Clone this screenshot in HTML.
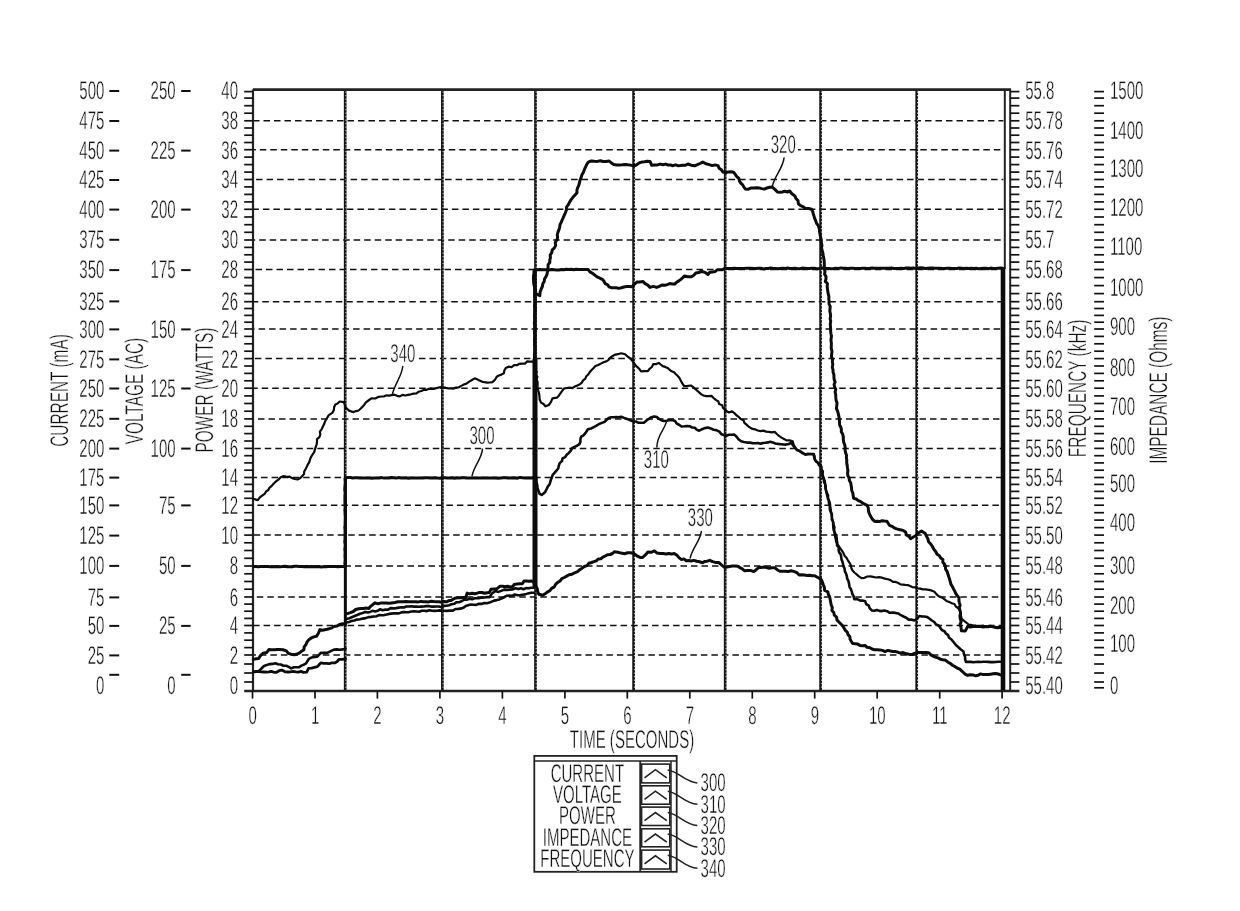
<!DOCTYPE html>
<html><head><meta charset="utf-8"><title>Chart</title>
<style>
html,body{margin:0;padding:0;background:#fff;}
body{width:1240px;height:911px;overflow:hidden;font-family:"Liberation Sans",sans-serif;}
svg{display:block;filter:grayscale(1);}
</style></head>
<body>
<svg width="1240" height="911" viewBox="0 0 1240 911">
<rect width="1240" height="911" fill="#fff"/>
<g stroke="#111" fill="none" stroke-linecap="butt">
<line x1="253.0" y1="120.8" x2="1003.4" y2="120.8" stroke-width="1.5" stroke-dasharray="6.5 4" stroke-dashoffset="0.0"/>
<line x1="253.0" y1="149.7" x2="768" y2="149.7" stroke-width="1.5" stroke-dasharray="6.5 4" stroke-dashoffset="3.7"/>
<line x1="798" y1="149.7" x2="1003.4" y2="149.7" stroke-width="1.5" stroke-dasharray="6.5 4" stroke-dashoffset="3.7"/>
<line x1="253.0" y1="179.5" x2="1003.4" y2="179.5" stroke-width="1.5" stroke-dasharray="6.5 4" stroke-dashoffset="7.4"/>
<line x1="253.0" y1="209.3" x2="1003.4" y2="209.3" stroke-width="1.5" stroke-dasharray="6.5 4" stroke-dashoffset="0.6"/>
<line x1="253.0" y1="240.0" x2="1003.4" y2="240.0" stroke-width="1.5" stroke-dasharray="6.5 4" stroke-dashoffset="4.3"/>
<line x1="253.0" y1="269.5" x2="1003.4" y2="269.5" stroke-width="1.5" stroke-dasharray="6.5 4" stroke-dashoffset="8.0"/>
<line x1="253.0" y1="301.7" x2="1003.4" y2="301.7" stroke-width="1.5" stroke-dasharray="6.5 4" stroke-dashoffset="1.2"/>
<line x1="253.0" y1="329.0" x2="1003.4" y2="329.0" stroke-width="1.5" stroke-dasharray="6.5 4" stroke-dashoffset="4.9"/>
<line x1="253.0" y1="358.6" x2="387" y2="358.6" stroke-width="1.5" stroke-dasharray="6.5 4" stroke-dashoffset="8.6"/>
<line x1="417" y1="358.6" x2="1003.4" y2="358.6" stroke-width="1.5" stroke-dasharray="6.5 4" stroke-dashoffset="8.6"/>
<line x1="253.0" y1="388.2" x2="1003.4" y2="388.2" stroke-width="1.5" stroke-dasharray="6.5 4" stroke-dashoffset="1.8"/>
<line x1="253.0" y1="418.9" x2="1003.4" y2="418.9" stroke-width="1.5" stroke-dasharray="6.5 4" stroke-dashoffset="5.5"/>
<line x1="253.0" y1="448.4" x2="1003.4" y2="448.4" stroke-width="1.5" stroke-dasharray="6.5 4" stroke-dashoffset="9.2"/>
<line x1="253.0" y1="477.5" x2="1003.4" y2="477.5" stroke-width="1.5" stroke-dasharray="6.5 4" stroke-dashoffset="2.4"/>
<line x1="253.0" y1="505.2" x2="1003.4" y2="505.2" stroke-width="1.5" stroke-dasharray="6.5 4" stroke-dashoffset="6.1"/>
<line x1="253.0" y1="535.1" x2="1003.4" y2="535.1" stroke-width="1.5" stroke-dasharray="6.5 4" stroke-dashoffset="9.8"/>
<line x1="253.0" y1="566.0" x2="1003.4" y2="566.0" stroke-width="1.5" stroke-dasharray="6.5 4" stroke-dashoffset="3.0"/>
<line x1="253.0" y1="597.0" x2="1003.4" y2="597.0" stroke-width="1.5" stroke-dasharray="6.5 4" stroke-dashoffset="6.7"/>
<line x1="253.0" y1="625.5" x2="1003.4" y2="625.5" stroke-width="1.5" stroke-dasharray="6.5 4" stroke-dashoffset="10.4"/>
<line x1="253.0" y1="655.0" x2="1003.4" y2="655.0" stroke-width="1.5" stroke-dasharray="6.5 4" stroke-dashoffset="3.6"/>
<line x1="345.2" y1="89.6" x2="345.2" y2="691.0" stroke-width="2.7" stroke="#141414"/>
<line x1="345.9" y1="91.6" x2="345.9" y2="690.0" stroke-width="0.9" stroke="#fff" stroke-dasharray="1.1 2.4"/>
<line x1="442.4" y1="89.6" x2="442.4" y2="691.0" stroke-width="2.7" stroke="#141414"/>
<line x1="443.1" y1="91.6" x2="443.1" y2="690.0" stroke-width="0.9" stroke="#fff" stroke-dasharray="1.1 2.4"/>
<line x1="535.5" y1="89.6" x2="535.5" y2="691.0" stroke-width="2.7" stroke="#141414"/>
<line x1="536.2" y1="91.6" x2="536.2" y2="690.0" stroke-width="0.9" stroke="#fff" stroke-dasharray="1.1 2.4"/>
<line x1="633.6" y1="89.6" x2="633.6" y2="691.0" stroke-width="2.7" stroke="#141414"/>
<line x1="634.4" y1="91.6" x2="634.4" y2="690.0" stroke-width="0.9" stroke="#fff" stroke-dasharray="1.1 2.4"/>
<line x1="725.2" y1="89.6" x2="725.2" y2="691.0" stroke-width="2.7" stroke="#141414"/>
<line x1="726.0" y1="91.6" x2="726.0" y2="690.0" stroke-width="0.9" stroke="#fff" stroke-dasharray="1.1 2.4"/>
<line x1="820.6" y1="89.6" x2="820.6" y2="691.0" stroke-width="2.7" stroke="#141414"/>
<line x1="821.4" y1="91.6" x2="821.4" y2="690.0" stroke-width="0.9" stroke="#fff" stroke-dasharray="1.1 2.4"/>
<line x1="916.7" y1="89.6" x2="916.7" y2="691.0" stroke-width="2.7" stroke="#141414"/>
<line x1="917.5" y1="91.6" x2="917.5" y2="690.0" stroke-width="0.9" stroke="#fff" stroke-dasharray="1.1 2.4"/>
<line x1="252.8" y1="89.6" x2="1011.0" y2="89.6" stroke-width="2.6" stroke="#222"/>
<line x1="253.0" y1="89.6" x2="253.0" y2="691.0" stroke-width="2.2" stroke="#222"/>
<line x1="1010.2" y1="89.6" x2="1010.2" y2="691.0" stroke-width="2.0" stroke="#222"/>
<line x1="1004.8" y1="89.6" x2="1004.8" y2="269.0" stroke-width="2.0" stroke="#222"/>
<line x1="244.2" y1="691.0" x2="1019.4" y2="691.0" stroke-width="2.4" stroke="#222"/>
<line x1="244.2" y1="91.6" x2="253.0" y2="91.6" stroke-width="1.7"/>
<line x1="1010.2" y1="91.6" x2="1019.4" y2="91.6" stroke-width="1.7"/>
<line x1="244.2" y1="98.1" x2="253.0" y2="98.1" stroke-width="1.7"/>
<line x1="1010.2" y1="98.1" x2="1019.4" y2="98.1" stroke-width="1.7"/>
<line x1="244.2" y1="105.7" x2="253.0" y2="105.7" stroke-width="1.7"/>
<line x1="1010.2" y1="105.7" x2="1019.4" y2="105.7" stroke-width="1.7"/>
<line x1="244.2" y1="113.2" x2="253.0" y2="113.2" stroke-width="1.7"/>
<line x1="1010.2" y1="113.2" x2="1019.4" y2="113.2" stroke-width="1.7"/>
<line x1="244.2" y1="120.8" x2="253.0" y2="120.8" stroke-width="1.7"/>
<line x1="1010.2" y1="120.8" x2="1019.4" y2="120.8" stroke-width="1.7"/>
<line x1="244.2" y1="128.0" x2="253.0" y2="128.0" stroke-width="1.7"/>
<line x1="1010.2" y1="128.0" x2="1019.4" y2="128.0" stroke-width="1.7"/>
<line x1="244.2" y1="135.2" x2="253.0" y2="135.2" stroke-width="1.7"/>
<line x1="1010.2" y1="135.2" x2="1019.4" y2="135.2" stroke-width="1.7"/>
<line x1="244.2" y1="142.5" x2="253.0" y2="142.5" stroke-width="1.7"/>
<line x1="1010.2" y1="142.5" x2="1019.4" y2="142.5" stroke-width="1.7"/>
<line x1="244.2" y1="149.7" x2="253.0" y2="149.7" stroke-width="1.7"/>
<line x1="1010.2" y1="149.7" x2="1019.4" y2="149.7" stroke-width="1.7"/>
<line x1="244.2" y1="157.1" x2="253.0" y2="157.1" stroke-width="1.7"/>
<line x1="1010.2" y1="157.1" x2="1019.4" y2="157.1" stroke-width="1.7"/>
<line x1="244.2" y1="164.6" x2="253.0" y2="164.6" stroke-width="1.7"/>
<line x1="1010.2" y1="164.6" x2="1019.4" y2="164.6" stroke-width="1.7"/>
<line x1="244.2" y1="172.1" x2="253.0" y2="172.1" stroke-width="1.7"/>
<line x1="1010.2" y1="172.1" x2="1019.4" y2="172.1" stroke-width="1.7"/>
<line x1="244.2" y1="179.5" x2="253.0" y2="179.5" stroke-width="1.7"/>
<line x1="1010.2" y1="179.5" x2="1019.4" y2="179.5" stroke-width="1.7"/>
<line x1="244.2" y1="186.9" x2="253.0" y2="186.9" stroke-width="1.7"/>
<line x1="1010.2" y1="186.9" x2="1019.4" y2="186.9" stroke-width="1.7"/>
<line x1="244.2" y1="194.4" x2="253.0" y2="194.4" stroke-width="1.7"/>
<line x1="1010.2" y1="194.4" x2="1019.4" y2="194.4" stroke-width="1.7"/>
<line x1="244.2" y1="201.9" x2="253.0" y2="201.9" stroke-width="1.7"/>
<line x1="1010.2" y1="201.9" x2="1019.4" y2="201.9" stroke-width="1.7"/>
<line x1="244.2" y1="209.3" x2="253.0" y2="209.3" stroke-width="1.7"/>
<line x1="1010.2" y1="209.3" x2="1019.4" y2="209.3" stroke-width="1.7"/>
<line x1="244.2" y1="217.0" x2="253.0" y2="217.0" stroke-width="1.7"/>
<line x1="1010.2" y1="217.0" x2="1019.4" y2="217.0" stroke-width="1.7"/>
<line x1="244.2" y1="224.7" x2="253.0" y2="224.7" stroke-width="1.7"/>
<line x1="1010.2" y1="224.7" x2="1019.4" y2="224.7" stroke-width="1.7"/>
<line x1="244.2" y1="232.3" x2="253.0" y2="232.3" stroke-width="1.7"/>
<line x1="1010.2" y1="232.3" x2="1019.4" y2="232.3" stroke-width="1.7"/>
<line x1="244.2" y1="240.0" x2="253.0" y2="240.0" stroke-width="1.7"/>
<line x1="1010.2" y1="240.0" x2="1019.4" y2="240.0" stroke-width="1.7"/>
<line x1="244.2" y1="247.4" x2="253.0" y2="247.4" stroke-width="1.7"/>
<line x1="1010.2" y1="247.4" x2="1019.4" y2="247.4" stroke-width="1.7"/>
<line x1="244.2" y1="254.8" x2="253.0" y2="254.8" stroke-width="1.7"/>
<line x1="1010.2" y1="254.8" x2="1019.4" y2="254.8" stroke-width="1.7"/>
<line x1="244.2" y1="262.1" x2="253.0" y2="262.1" stroke-width="1.7"/>
<line x1="1010.2" y1="262.1" x2="1019.4" y2="262.1" stroke-width="1.7"/>
<line x1="244.2" y1="269.5" x2="253.0" y2="269.5" stroke-width="1.7"/>
<line x1="1010.2" y1="269.5" x2="1019.4" y2="269.5" stroke-width="1.7"/>
<line x1="244.2" y1="277.6" x2="253.0" y2="277.6" stroke-width="1.7"/>
<line x1="1010.2" y1="277.6" x2="1019.4" y2="277.6" stroke-width="1.7"/>
<line x1="244.2" y1="285.6" x2="253.0" y2="285.6" stroke-width="1.7"/>
<line x1="1010.2" y1="285.6" x2="1019.4" y2="285.6" stroke-width="1.7"/>
<line x1="244.2" y1="293.6" x2="253.0" y2="293.6" stroke-width="1.7"/>
<line x1="1010.2" y1="293.6" x2="1019.4" y2="293.6" stroke-width="1.7"/>
<line x1="244.2" y1="301.7" x2="253.0" y2="301.7" stroke-width="1.7"/>
<line x1="1010.2" y1="301.7" x2="1019.4" y2="301.7" stroke-width="1.7"/>
<line x1="244.2" y1="308.5" x2="253.0" y2="308.5" stroke-width="1.7"/>
<line x1="1010.2" y1="308.5" x2="1019.4" y2="308.5" stroke-width="1.7"/>
<line x1="244.2" y1="315.4" x2="253.0" y2="315.4" stroke-width="1.7"/>
<line x1="1010.2" y1="315.4" x2="1019.4" y2="315.4" stroke-width="1.7"/>
<line x1="244.2" y1="322.2" x2="253.0" y2="322.2" stroke-width="1.7"/>
<line x1="1010.2" y1="322.2" x2="1019.4" y2="322.2" stroke-width="1.7"/>
<line x1="244.2" y1="329.0" x2="253.0" y2="329.0" stroke-width="1.7"/>
<line x1="1010.2" y1="329.0" x2="1019.4" y2="329.0" stroke-width="1.7"/>
<line x1="244.2" y1="336.4" x2="253.0" y2="336.4" stroke-width="1.7"/>
<line x1="1010.2" y1="336.4" x2="1019.4" y2="336.4" stroke-width="1.7"/>
<line x1="244.2" y1="343.8" x2="253.0" y2="343.8" stroke-width="1.7"/>
<line x1="1010.2" y1="343.8" x2="1019.4" y2="343.8" stroke-width="1.7"/>
<line x1="244.2" y1="351.2" x2="253.0" y2="351.2" stroke-width="1.7"/>
<line x1="1010.2" y1="351.2" x2="1019.4" y2="351.2" stroke-width="1.7"/>
<line x1="244.2" y1="358.6" x2="253.0" y2="358.6" stroke-width="1.7"/>
<line x1="1010.2" y1="358.6" x2="1019.4" y2="358.6" stroke-width="1.7"/>
<line x1="244.2" y1="366.0" x2="253.0" y2="366.0" stroke-width="1.7"/>
<line x1="1010.2" y1="366.0" x2="1019.4" y2="366.0" stroke-width="1.7"/>
<line x1="244.2" y1="373.4" x2="253.0" y2="373.4" stroke-width="1.7"/>
<line x1="1010.2" y1="373.4" x2="1019.4" y2="373.4" stroke-width="1.7"/>
<line x1="244.2" y1="380.8" x2="253.0" y2="380.8" stroke-width="1.7"/>
<line x1="1010.2" y1="380.8" x2="1019.4" y2="380.8" stroke-width="1.7"/>
<line x1="244.2" y1="388.2" x2="253.0" y2="388.2" stroke-width="1.7"/>
<line x1="1010.2" y1="388.2" x2="1019.4" y2="388.2" stroke-width="1.7"/>
<line x1="244.2" y1="395.9" x2="253.0" y2="395.9" stroke-width="1.7"/>
<line x1="1010.2" y1="395.9" x2="1019.4" y2="395.9" stroke-width="1.7"/>
<line x1="244.2" y1="403.5" x2="253.0" y2="403.5" stroke-width="1.7"/>
<line x1="1010.2" y1="403.5" x2="1019.4" y2="403.5" stroke-width="1.7"/>
<line x1="244.2" y1="411.2" x2="253.0" y2="411.2" stroke-width="1.7"/>
<line x1="1010.2" y1="411.2" x2="1019.4" y2="411.2" stroke-width="1.7"/>
<line x1="244.2" y1="418.9" x2="253.0" y2="418.9" stroke-width="1.7"/>
<line x1="1010.2" y1="418.9" x2="1019.4" y2="418.9" stroke-width="1.7"/>
<line x1="244.2" y1="426.3" x2="253.0" y2="426.3" stroke-width="1.7"/>
<line x1="1010.2" y1="426.3" x2="1019.4" y2="426.3" stroke-width="1.7"/>
<line x1="244.2" y1="433.6" x2="253.0" y2="433.6" stroke-width="1.7"/>
<line x1="1010.2" y1="433.6" x2="1019.4" y2="433.6" stroke-width="1.7"/>
<line x1="244.2" y1="441.0" x2="253.0" y2="441.0" stroke-width="1.7"/>
<line x1="1010.2" y1="441.0" x2="1019.4" y2="441.0" stroke-width="1.7"/>
<line x1="244.2" y1="448.4" x2="253.0" y2="448.4" stroke-width="1.7"/>
<line x1="1010.2" y1="448.4" x2="1019.4" y2="448.4" stroke-width="1.7"/>
<line x1="244.2" y1="455.7" x2="253.0" y2="455.7" stroke-width="1.7"/>
<line x1="1010.2" y1="455.7" x2="1019.4" y2="455.7" stroke-width="1.7"/>
<line x1="244.2" y1="462.9" x2="253.0" y2="462.9" stroke-width="1.7"/>
<line x1="1010.2" y1="462.9" x2="1019.4" y2="462.9" stroke-width="1.7"/>
<line x1="244.2" y1="470.2" x2="253.0" y2="470.2" stroke-width="1.7"/>
<line x1="1010.2" y1="470.2" x2="1019.4" y2="470.2" stroke-width="1.7"/>
<line x1="244.2" y1="477.5" x2="253.0" y2="477.5" stroke-width="1.7"/>
<line x1="1010.2" y1="477.5" x2="1019.4" y2="477.5" stroke-width="1.7"/>
<line x1="244.2" y1="484.4" x2="253.0" y2="484.4" stroke-width="1.7"/>
<line x1="1010.2" y1="484.4" x2="1019.4" y2="484.4" stroke-width="1.7"/>
<line x1="244.2" y1="491.4" x2="253.0" y2="491.4" stroke-width="1.7"/>
<line x1="1010.2" y1="491.4" x2="1019.4" y2="491.4" stroke-width="1.7"/>
<line x1="244.2" y1="498.3" x2="253.0" y2="498.3" stroke-width="1.7"/>
<line x1="1010.2" y1="498.3" x2="1019.4" y2="498.3" stroke-width="1.7"/>
<line x1="244.2" y1="505.2" x2="253.0" y2="505.2" stroke-width="1.7"/>
<line x1="1010.2" y1="505.2" x2="1019.4" y2="505.2" stroke-width="1.7"/>
<line x1="244.2" y1="512.7" x2="253.0" y2="512.7" stroke-width="1.7"/>
<line x1="1010.2" y1="512.7" x2="1019.4" y2="512.7" stroke-width="1.7"/>
<line x1="244.2" y1="520.1" x2="253.0" y2="520.1" stroke-width="1.7"/>
<line x1="1010.2" y1="520.1" x2="1019.4" y2="520.1" stroke-width="1.7"/>
<line x1="244.2" y1="527.6" x2="253.0" y2="527.6" stroke-width="1.7"/>
<line x1="1010.2" y1="527.6" x2="1019.4" y2="527.6" stroke-width="1.7"/>
<line x1="244.2" y1="535.1" x2="253.0" y2="535.1" stroke-width="1.7"/>
<line x1="1010.2" y1="535.1" x2="1019.4" y2="535.1" stroke-width="1.7"/>
<line x1="244.2" y1="542.8" x2="253.0" y2="542.8" stroke-width="1.7"/>
<line x1="1010.2" y1="542.8" x2="1019.4" y2="542.8" stroke-width="1.7"/>
<line x1="244.2" y1="550.5" x2="253.0" y2="550.5" stroke-width="1.7"/>
<line x1="1010.2" y1="550.5" x2="1019.4" y2="550.5" stroke-width="1.7"/>
<line x1="244.2" y1="558.3" x2="253.0" y2="558.3" stroke-width="1.7"/>
<line x1="1010.2" y1="558.3" x2="1019.4" y2="558.3" stroke-width="1.7"/>
<line x1="244.2" y1="566.0" x2="253.0" y2="566.0" stroke-width="1.7"/>
<line x1="1010.2" y1="566.0" x2="1019.4" y2="566.0" stroke-width="1.7"/>
<line x1="244.2" y1="573.8" x2="253.0" y2="573.8" stroke-width="1.7"/>
<line x1="1010.2" y1="573.8" x2="1019.4" y2="573.8" stroke-width="1.7"/>
<line x1="244.2" y1="581.5" x2="253.0" y2="581.5" stroke-width="1.7"/>
<line x1="1010.2" y1="581.5" x2="1019.4" y2="581.5" stroke-width="1.7"/>
<line x1="244.2" y1="589.2" x2="253.0" y2="589.2" stroke-width="1.7"/>
<line x1="1010.2" y1="589.2" x2="1019.4" y2="589.2" stroke-width="1.7"/>
<line x1="244.2" y1="597.0" x2="253.0" y2="597.0" stroke-width="1.7"/>
<line x1="1010.2" y1="597.0" x2="1019.4" y2="597.0" stroke-width="1.7"/>
<line x1="244.2" y1="604.1" x2="253.0" y2="604.1" stroke-width="1.7"/>
<line x1="1010.2" y1="604.1" x2="1019.4" y2="604.1" stroke-width="1.7"/>
<line x1="244.2" y1="611.2" x2="253.0" y2="611.2" stroke-width="1.7"/>
<line x1="1010.2" y1="611.2" x2="1019.4" y2="611.2" stroke-width="1.7"/>
<line x1="244.2" y1="618.4" x2="253.0" y2="618.4" stroke-width="1.7"/>
<line x1="1010.2" y1="618.4" x2="1019.4" y2="618.4" stroke-width="1.7"/>
<line x1="244.2" y1="625.5" x2="253.0" y2="625.5" stroke-width="1.7"/>
<line x1="1010.2" y1="625.5" x2="1019.4" y2="625.5" stroke-width="1.7"/>
<line x1="244.2" y1="632.9" x2="253.0" y2="632.9" stroke-width="1.7"/>
<line x1="1010.2" y1="632.9" x2="1019.4" y2="632.9" stroke-width="1.7"/>
<line x1="244.2" y1="640.2" x2="253.0" y2="640.2" stroke-width="1.7"/>
<line x1="1010.2" y1="640.2" x2="1019.4" y2="640.2" stroke-width="1.7"/>
<line x1="244.2" y1="647.6" x2="253.0" y2="647.6" stroke-width="1.7"/>
<line x1="1010.2" y1="647.6" x2="1019.4" y2="647.6" stroke-width="1.7"/>
<line x1="244.2" y1="655.0" x2="253.0" y2="655.0" stroke-width="1.7"/>
<line x1="1010.2" y1="655.0" x2="1019.4" y2="655.0" stroke-width="1.7"/>
<line x1="244.2" y1="664.0" x2="253.0" y2="664.0" stroke-width="1.7"/>
<line x1="1010.2" y1="664.0" x2="1019.4" y2="664.0" stroke-width="1.7"/>
<line x1="244.2" y1="673.0" x2="253.0" y2="673.0" stroke-width="1.7"/>
<line x1="1010.2" y1="673.0" x2="1019.4" y2="673.0" stroke-width="1.7"/>
<line x1="244.2" y1="682.0" x2="253.0" y2="682.0" stroke-width="1.7"/>
<line x1="1010.2" y1="682.0" x2="1019.4" y2="682.0" stroke-width="1.7"/>
<line x1="1094.2" y1="91.6" x2="1104.0" y2="91.6" stroke-width="1.7"/>
<line x1="1094.2" y1="98.1" x2="1104.0" y2="98.1" stroke-width="1.7"/>
<line x1="1094.2" y1="105.7" x2="1104.0" y2="105.7" stroke-width="1.7"/>
<line x1="1094.2" y1="113.2" x2="1104.0" y2="113.2" stroke-width="1.7"/>
<line x1="1094.2" y1="120.8" x2="1104.0" y2="120.8" stroke-width="1.7"/>
<line x1="1094.2" y1="128.0" x2="1104.0" y2="128.0" stroke-width="1.7"/>
<line x1="1094.2" y1="135.2" x2="1104.0" y2="135.2" stroke-width="1.7"/>
<line x1="1094.2" y1="142.5" x2="1104.0" y2="142.5" stroke-width="1.7"/>
<line x1="1094.2" y1="149.7" x2="1104.0" y2="149.7" stroke-width="1.7"/>
<line x1="1094.2" y1="157.1" x2="1104.0" y2="157.1" stroke-width="1.7"/>
<line x1="1094.2" y1="164.6" x2="1104.0" y2="164.6" stroke-width="1.7"/>
<line x1="1094.2" y1="172.1" x2="1104.0" y2="172.1" stroke-width="1.7"/>
<line x1="1094.2" y1="179.5" x2="1104.0" y2="179.5" stroke-width="1.7"/>
<line x1="1094.2" y1="186.9" x2="1104.0" y2="186.9" stroke-width="1.7"/>
<line x1="1094.2" y1="194.4" x2="1104.0" y2="194.4" stroke-width="1.7"/>
<line x1="1094.2" y1="201.9" x2="1104.0" y2="201.9" stroke-width="1.7"/>
<line x1="1094.2" y1="209.3" x2="1104.0" y2="209.3" stroke-width="1.7"/>
<line x1="1094.2" y1="217.0" x2="1104.0" y2="217.0" stroke-width="1.7"/>
<line x1="1094.2" y1="224.7" x2="1104.0" y2="224.7" stroke-width="1.7"/>
<line x1="1094.2" y1="232.3" x2="1104.0" y2="232.3" stroke-width="1.7"/>
<line x1="1094.2" y1="240.0" x2="1104.0" y2="240.0" stroke-width="1.7"/>
<line x1="1094.2" y1="247.4" x2="1104.0" y2="247.4" stroke-width="1.7"/>
<line x1="1094.2" y1="254.8" x2="1104.0" y2="254.8" stroke-width="1.7"/>
<line x1="1094.2" y1="262.1" x2="1104.0" y2="262.1" stroke-width="1.7"/>
<line x1="1094.2" y1="269.5" x2="1104.0" y2="269.5" stroke-width="1.7"/>
<line x1="1094.2" y1="277.6" x2="1104.0" y2="277.6" stroke-width="1.7"/>
<line x1="1094.2" y1="285.6" x2="1104.0" y2="285.6" stroke-width="1.7"/>
<line x1="1094.2" y1="293.6" x2="1104.0" y2="293.6" stroke-width="1.7"/>
<line x1="1094.2" y1="301.7" x2="1104.0" y2="301.7" stroke-width="1.7"/>
<line x1="1094.2" y1="308.5" x2="1104.0" y2="308.5" stroke-width="1.7"/>
<line x1="1094.2" y1="315.4" x2="1104.0" y2="315.4" stroke-width="1.7"/>
<line x1="1094.2" y1="322.2" x2="1104.0" y2="322.2" stroke-width="1.7"/>
<line x1="1094.2" y1="329.0" x2="1104.0" y2="329.0" stroke-width="1.7"/>
<line x1="1094.2" y1="336.4" x2="1104.0" y2="336.4" stroke-width="1.7"/>
<line x1="1094.2" y1="343.8" x2="1104.0" y2="343.8" stroke-width="1.7"/>
<line x1="1094.2" y1="351.2" x2="1104.0" y2="351.2" stroke-width="1.7"/>
<line x1="1094.2" y1="358.6" x2="1104.0" y2="358.6" stroke-width="1.7"/>
<line x1="1094.2" y1="366.0" x2="1104.0" y2="366.0" stroke-width="1.7"/>
<line x1="1094.2" y1="373.4" x2="1104.0" y2="373.4" stroke-width="1.7"/>
<line x1="1094.2" y1="380.8" x2="1104.0" y2="380.8" stroke-width="1.7"/>
<line x1="1094.2" y1="388.2" x2="1104.0" y2="388.2" stroke-width="1.7"/>
<line x1="1094.2" y1="395.9" x2="1104.0" y2="395.9" stroke-width="1.7"/>
<line x1="1094.2" y1="403.5" x2="1104.0" y2="403.5" stroke-width="1.7"/>
<line x1="1094.2" y1="411.2" x2="1104.0" y2="411.2" stroke-width="1.7"/>
<line x1="1094.2" y1="418.9" x2="1104.0" y2="418.9" stroke-width="1.7"/>
<line x1="1094.2" y1="426.3" x2="1104.0" y2="426.3" stroke-width="1.7"/>
<line x1="1094.2" y1="433.6" x2="1104.0" y2="433.6" stroke-width="1.7"/>
<line x1="1094.2" y1="441.0" x2="1104.0" y2="441.0" stroke-width="1.7"/>
<line x1="1094.2" y1="448.4" x2="1104.0" y2="448.4" stroke-width="1.7"/>
<line x1="1094.2" y1="455.7" x2="1104.0" y2="455.7" stroke-width="1.7"/>
<line x1="1094.2" y1="462.9" x2="1104.0" y2="462.9" stroke-width="1.7"/>
<line x1="1094.2" y1="470.2" x2="1104.0" y2="470.2" stroke-width="1.7"/>
<line x1="1094.2" y1="477.5" x2="1104.0" y2="477.5" stroke-width="1.7"/>
<line x1="1094.2" y1="484.4" x2="1104.0" y2="484.4" stroke-width="1.7"/>
<line x1="1094.2" y1="491.4" x2="1104.0" y2="491.4" stroke-width="1.7"/>
<line x1="1094.2" y1="498.3" x2="1104.0" y2="498.3" stroke-width="1.7"/>
<line x1="1094.2" y1="505.2" x2="1104.0" y2="505.2" stroke-width="1.7"/>
<line x1="1094.2" y1="512.7" x2="1104.0" y2="512.7" stroke-width="1.7"/>
<line x1="1094.2" y1="520.1" x2="1104.0" y2="520.1" stroke-width="1.7"/>
<line x1="1094.2" y1="527.6" x2="1104.0" y2="527.6" stroke-width="1.7"/>
<line x1="1094.2" y1="535.1" x2="1104.0" y2="535.1" stroke-width="1.7"/>
<line x1="1094.2" y1="542.8" x2="1104.0" y2="542.8" stroke-width="1.7"/>
<line x1="1094.2" y1="550.5" x2="1104.0" y2="550.5" stroke-width="1.7"/>
<line x1="1094.2" y1="558.3" x2="1104.0" y2="558.3" stroke-width="1.7"/>
<line x1="1094.2" y1="566.0" x2="1104.0" y2="566.0" stroke-width="1.7"/>
<line x1="1094.2" y1="573.8" x2="1104.0" y2="573.8" stroke-width="1.7"/>
<line x1="1094.2" y1="581.5" x2="1104.0" y2="581.5" stroke-width="1.7"/>
<line x1="1094.2" y1="589.2" x2="1104.0" y2="589.2" stroke-width="1.7"/>
<line x1="1094.2" y1="597.0" x2="1104.0" y2="597.0" stroke-width="1.7"/>
<line x1="1094.2" y1="604.1" x2="1104.0" y2="604.1" stroke-width="1.7"/>
<line x1="1094.2" y1="611.2" x2="1104.0" y2="611.2" stroke-width="1.7"/>
<line x1="1094.2" y1="618.4" x2="1104.0" y2="618.4" stroke-width="1.7"/>
<line x1="1094.2" y1="625.5" x2="1104.0" y2="625.5" stroke-width="1.7"/>
<line x1="1094.2" y1="632.9" x2="1104.0" y2="632.9" stroke-width="1.7"/>
<line x1="1094.2" y1="640.2" x2="1104.0" y2="640.2" stroke-width="1.7"/>
<line x1="1094.2" y1="647.6" x2="1104.0" y2="647.6" stroke-width="1.7"/>
<line x1="1094.2" y1="655.0" x2="1104.0" y2="655.0" stroke-width="1.7"/>
<line x1="1094.2" y1="664.0" x2="1104.0" y2="664.0" stroke-width="1.7"/>
<line x1="1094.2" y1="673.0" x2="1104.0" y2="673.0" stroke-width="1.7"/>
<line x1="1094.2" y1="682.0" x2="1104.0" y2="682.0" stroke-width="1.7"/>
<line x1="1094.2" y1="687.8" x2="1104.0" y2="687.8" stroke-width="1.7"/>
<line x1="252.5" y1="691.0" x2="252.5" y2="698.6" stroke-width="1.7"/>
<line x1="315.0" y1="691.0" x2="315.0" y2="698.6" stroke-width="1.7"/>
<line x1="377.4" y1="691.0" x2="377.4" y2="698.6" stroke-width="1.7"/>
<line x1="439.9" y1="691.0" x2="439.9" y2="698.6" stroke-width="1.7"/>
<line x1="502.4" y1="691.0" x2="502.4" y2="698.6" stroke-width="1.7"/>
<line x1="564.9" y1="691.0" x2="564.9" y2="698.6" stroke-width="1.7"/>
<line x1="627.3" y1="691.0" x2="627.3" y2="698.6" stroke-width="1.7"/>
<line x1="689.8" y1="691.0" x2="689.8" y2="698.6" stroke-width="1.7"/>
<line x1="752.3" y1="691.0" x2="752.3" y2="698.6" stroke-width="1.7"/>
<line x1="814.7" y1="691.0" x2="814.7" y2="698.6" stroke-width="1.7"/>
<line x1="877.2" y1="691.0" x2="877.2" y2="698.6" stroke-width="1.7"/>
<line x1="939.7" y1="691.0" x2="939.7" y2="698.6" stroke-width="1.7"/>
<line x1="1002.1" y1="691.0" x2="1002.1" y2="698.6" stroke-width="1.7"/>
<line x1="109.3" y1="91.0" x2="119.2" y2="91.0" stroke-width="2.0"/>
<line x1="181.2" y1="91.0" x2="190.6" y2="91.0" stroke-width="2.0"/>
<line x1="109.3" y1="121.0" x2="119.2" y2="121.0" stroke-width="2.0"/>
<line x1="109.3" y1="150.6" x2="119.2" y2="150.6" stroke-width="2.0"/>
<line x1="181.2" y1="150.6" x2="190.6" y2="150.6" stroke-width="2.0"/>
<line x1="109.3" y1="180.0" x2="119.2" y2="180.0" stroke-width="2.0"/>
<line x1="109.3" y1="209.6" x2="119.2" y2="209.6" stroke-width="2.0"/>
<line x1="181.2" y1="209.6" x2="190.6" y2="209.6" stroke-width="2.0"/>
<line x1="109.3" y1="239.8" x2="119.2" y2="239.8" stroke-width="2.0"/>
<line x1="109.3" y1="270.1" x2="119.2" y2="270.1" stroke-width="2.0"/>
<line x1="181.2" y1="270.1" x2="190.6" y2="270.1" stroke-width="2.0"/>
<line x1="109.3" y1="301.4" x2="119.2" y2="301.4" stroke-width="2.0"/>
<line x1="109.3" y1="329.4" x2="119.2" y2="329.4" stroke-width="2.0"/>
<line x1="181.2" y1="329.4" x2="190.6" y2="329.4" stroke-width="2.0"/>
<line x1="109.3" y1="359.4" x2="119.2" y2="359.4" stroke-width="2.0"/>
<line x1="109.3" y1="388.5" x2="119.2" y2="388.5" stroke-width="2.0"/>
<line x1="181.2" y1="388.5" x2="190.6" y2="388.5" stroke-width="2.0"/>
<line x1="109.3" y1="418.8" x2="119.2" y2="418.8" stroke-width="2.0"/>
<line x1="109.3" y1="448.6" x2="119.2" y2="448.6" stroke-width="2.0"/>
<line x1="181.2" y1="448.6" x2="190.6" y2="448.6" stroke-width="2.0"/>
<line x1="109.3" y1="477.6" x2="119.2" y2="477.6" stroke-width="2.0"/>
<line x1="109.3" y1="505.4" x2="119.2" y2="505.4" stroke-width="2.0"/>
<line x1="181.2" y1="505.4" x2="190.6" y2="505.4" stroke-width="2.0"/>
<line x1="109.3" y1="535.6" x2="119.2" y2="535.6" stroke-width="2.0"/>
<line x1="109.3" y1="565.9" x2="119.2" y2="565.9" stroke-width="2.0"/>
<line x1="181.2" y1="565.9" x2="190.6" y2="565.9" stroke-width="2.0"/>
<line x1="109.3" y1="597.4" x2="119.2" y2="597.4" stroke-width="2.0"/>
<line x1="109.3" y1="625.9" x2="119.2" y2="625.9" stroke-width="2.0"/>
<line x1="181.2" y1="625.9" x2="190.6" y2="625.9" stroke-width="2.0"/>
<line x1="109.3" y1="655.4" x2="119.2" y2="655.4" stroke-width="2.0"/>
<line x1="109.3" y1="674.8" x2="119.2" y2="674.8" stroke-width="2.0"/>
<line x1="181.2" y1="674.8" x2="190.6" y2="674.8" stroke-width="2.0"/>
</g>
<g stroke="#0c0c0c" fill="none" stroke-linejoin="round" stroke-linecap="round">
<polyline points="253.5,566.6 255.9,566.6 258.3,566.7 260.7,566.6 263.2,566.5 265.6,566.4 268.0,566.6 270.4,566.8 272.8,566.7 275.2,566.8 277.6,566.6 280.0,566.7 282.5,566.6 284.9,566.3 287.3,566.8 289.7,566.7 292.1,566.7 294.5,566.3 296.9,566.3 299.4,566.4 301.8,566.5 304.2,566.7 306.6,566.6 309.0,566.7 311.4,566.5 313.8,566.7 316.2,566.7 318.7,566.5 321.1,566.9 323.5,566.7 325.9,566.8 328.3,566.5 330.7,566.5 333.1,566.5 335.5,566.6 338.0,566.7 340.4,566.6 342.8,566.5 345.2,566.6 345.0,564.1 345.1,561.7 345.4,559.2 345.1,556.7 345.2,554.3 345.3,551.8 344.9,549.4 345.2,546.9 345.4,544.4 344.8,542.0 345.1,539.5 345.2,537.0 345.1,534.6 345.3,532.1 345.2,529.6 344.9,527.2 345.3,524.7 345.3,522.2 345.4,519.8 345.5,517.3 345.3,514.9 345.2,512.4 345.0,509.9 345.3,507.5 345.1,505.0 345.1,502.5 345.0,500.1 345.0,497.6 345.1,495.1 345.4,492.7 344.8,490.2 344.9,487.8 345.2,485.3 345.5,482.8 345.3,480.4 345.2,477.9 347.6,477.6 350.1,477.4 352.5,478.0 354.9,477.8 357.3,477.7 359.8,478.1 362.2,478.1 364.6,477.9 367.1,477.9 369.5,478.0 371.9,478.2 374.4,478.0 376.8,478.0 379.2,478.0 381.6,477.6 384.1,478.1 386.5,478.1 388.9,478.0 391.4,477.5 393.8,477.8 396.2,478.1 398.6,477.6 401.1,477.9 403.5,478.1 405.9,477.7 408.4,478.2 410.8,478.0 413.2,477.9 415.7,478.0 418.1,478.0 420.5,477.9 422.9,478.1 425.4,477.8 427.8,477.8 430.2,478.1 432.7,477.9 435.1,477.7 437.5,478.1 440.0,478.2 442.4,477.8 444.8,477.7 447.2,477.9 449.7,477.9 452.1,477.8 454.5,478.2 457.0,477.7 459.4,478.1 461.8,477.7 464.2,477.8 466.7,478.0 469.1,478.1 471.5,478.1 474.0,478.0 476.4,477.9 478.8,477.9 481.3,478.0 483.7,477.9 486.1,477.9 488.5,478.0 491.0,477.9 493.4,478.0 495.8,478.0 498.3,478.3 500.7,478.0 503.1,477.8 505.5,477.8 508.0,477.9 510.4,478.1 512.8,477.8 515.3,478.0 517.7,478.2 520.1,477.4 522.6,477.7 525.0,477.9 527.4,478.0 529.8,477.9 532.3,477.8 534.7,477.9 534.8,475.5 534.8,473.1 534.6,470.6 535.1,468.2 534.8,465.8 534.6,463.4 534.7,461.0 534.7,458.5 534.7,456.1 534.2,453.7 534.6,451.3 534.9,448.8 534.5,446.4 534.7,444.0 534.9,441.6 534.9,439.2 535.0,436.7 534.4,434.3 534.6,431.9 534.6,429.5 534.8,427.1 534.9,424.6 534.2,422.2 534.9,419.8 534.4,417.4 534.8,415.0 534.4,412.5 534.7,410.1 534.9,407.7 534.7,405.3 534.7,402.9 534.8,400.4 534.7,398.0 534.7,395.6 535.0,393.2 534.9,390.7 534.6,388.3 535.2,385.9 534.5,383.5 534.9,381.1 534.7,378.6 534.7,376.2 534.8,373.8 534.7,371.4 534.8,369.0 534.4,366.5 534.4,364.1 534.8,361.7 534.5,359.3 534.5,356.9 534.4,354.4 534.9,352.0 534.8,349.6 535.0,347.2 534.5,344.7 534.7,342.3 534.5,339.9 534.8,337.5 535.0,335.1 534.5,332.6 535.0,330.2 534.9,327.8 534.7,325.4 534.3,323.0 535.0,320.5 534.7,318.1 534.6,315.7 534.8,313.3 534.8,310.9 535.0,308.4 534.5,306.0 534.9,303.6 535.0,301.2 535.0,298.8 534.7,296.3 534.6,293.9 534.9,291.5 534.7,289.1 534.7,286.6 535.0,284.2 534.7,281.8 534.3,279.4 534.6,277.0 534.4,274.5 534.8,272.1 534.7,269.7 537.1,269.7 539.6,269.6 542.0,269.7 544.4,269.8 546.9,269.7 549.3,269.9 551.8,269.6 554.2,269.8 556.6,269.9 559.1,269.9 561.5,269.5 563.9,269.7 566.4,269.2 568.8,269.4 571.2,269.2 573.7,269.7 576.1,269.3 578.6,269.5 581.0,269.5 583.4,269.5 585.9,269.4 588.2,269.6 589.9,271.9 592.4,273.3 594.8,275.1 597.1,276.9 599.9,278.2 602.7,279.6 604.1,281.5 605.3,283.7 607.7,284.8 608.9,286.8 611.3,287.7 613.8,287.8 616.3,287.8 618.8,288.4 621.4,287.8 624.0,287.0 626.6,286.6 629.3,286.6 632.1,286.8 634.3,284.3 636.9,282.1 639.7,281.9 642.9,281.4 645.1,283.7 647.8,285.1 650.0,287.4 653.3,286.4 656.6,287.4 659.3,286.3 661.9,285.0 664.9,285.2 667.3,284.6 669.7,283.6 672.2,283.9 674.8,284.1 676.6,282.2 678.8,280.9 680.8,279.3 682.8,277.6 684.6,275.9 687.8,276.7 691.3,276.8 693.8,275.3 695.8,273.1 698.8,272.6 700.9,271.4 703.3,271.8 705.6,272.7 708.0,274.5 709.8,272.2 712.5,271.9 715.0,271.6 717.2,269.8 719.8,269.8 722.4,269.7 724.7,268.4 727.1,268.4 729.5,268.5 732.0,268.6 734.4,268.2 736.8,268.4 739.2,268.4 741.6,268.5 744.0,268.4 746.5,268.3 748.9,268.2 751.3,268.3 753.7,268.5 756.1,268.4 758.6,268.2 761.0,268.2 763.4,268.9 765.8,268.6 768.2,268.5 770.6,267.9 773.1,268.5 775.5,268.5 777.9,268.7 780.3,268.4 782.7,268.3 785.2,268.5 787.6,268.0 790.0,268.5 792.4,268.4 794.8,268.2 797.2,268.6 799.7,268.7 802.1,268.1 804.5,268.2 806.9,268.4 809.3,268.4 811.8,268.3 814.2,268.2 816.6,268.7 819.0,268.5 821.4,268.1 823.8,268.1 826.3,268.6 828.7,268.5 831.1,268.7 833.5,268.5 835.9,268.2 838.4,268.4 840.8,267.9 843.2,268.2 845.6,268.3 848.0,268.4 850.4,268.2 852.9,268.3 855.3,268.4 857.7,268.4 860.1,268.4 862.5,268.3 865.0,268.2 867.4,268.4 869.8,268.3 872.2,268.1 874.6,268.2 877.1,268.3 879.5,268.3 881.9,268.3 884.3,268.3 886.7,268.3 889.1,268.3 891.6,268.1 894.0,268.4 896.4,268.5 898.8,268.4 901.2,268.2 903.7,268.4 906.1,268.1 908.5,267.9 910.9,268.3 913.3,268.1 915.7,268.4 918.2,268.1 920.6,267.8 923.0,268.1 925.4,268.5 927.8,268.2 930.3,268.0 932.7,268.1 935.1,268.3 937.5,268.3 939.9,268.3 942.3,268.5 944.8,268.4 947.2,268.2 949.6,268.3 952.0,268.5 954.4,268.4 956.9,268.4 959.3,268.0 961.7,268.2 964.1,268.4 966.5,268.2 968.9,268.4 971.4,268.3 973.8,268.4 976.2,268.2 978.6,268.7 981.0,268.4 983.5,268.2 985.9,268.2 988.3,268.7 990.7,268.1 993.1,268.4 995.5,268.4 998.0,268.2 1000.4,268.0 1002.8,268.2" stroke-width="3.0" fill="none"/>
<line x1="535.0" y1="269.5" x2="535.0" y2="359.0" stroke-width="3.4" stroke-linecap="butt"/>
<line x1="535.0" y1="358.5" x2="535.0" y2="587.0" stroke-width="5.0" stroke-linecap="butt"/>
<line x1="1003.0" y1="268.0" x2="1003.0" y2="690.0" stroke-width="4.6" stroke-linecap="butt"/>
<line x1="345.4" y1="478.0" x2="345.4" y2="566.0" stroke-width="3.0" stroke-linecap="butt"/>
<line x1="345.4" y1="566.0" x2="345.4" y2="626.0" stroke-width="2.6" stroke-linecap="butt"/>
<polyline points="534.1,270.5 533.9,273.2 533.5,276.0 533.5,278.7 533.6,281.5 533.8,284.1 534.4,286.5 535.0,289.0 535.5,291.5 536.0,293.9 539.8,295.6 540.1,292.1 541.2,288.9 542.4,286.5 542.8,283.8 544.2,281.5 544.6,278.8 546.0,276.6 547.0,274.3 547.4,271.9 547.7,269.5 548.1,267.1 548.1,264.6 549.8,262.5 549.8,260.0 550.4,257.7 550.2,255.1 551.7,252.7 552.3,249.9 554.4,247.9 555.7,245.4 555.3,242.6 556.7,240.2 557.6,237.7 557.3,234.9 557.9,232.4 558.9,229.9 559.7,227.4 560.0,224.7 561.2,222.3 562.2,219.9 563.3,217.5 564.3,215.0 565.5,212.6 566.4,210.1 566.5,207.2 568.2,204.9 569.5,202.3 570.9,199.9 572.7,197.6 574.8,195.2 577.0,192.7 576.9,190.1 577.7,187.6 578.8,185.3 579.4,182.8 580.0,180.3 581.1,177.6 581.9,174.8 583.4,172.4 584.3,169.7 585.5,167.1 586.7,164.5 588.3,162.1 591.2,160.9 594.3,161.3 597.4,161.4 600.3,160.8 603.1,161.5 606.0,161.5 609.2,161.0 611.4,163.0 613.8,164.6 616.7,164.9 619.5,164.9 622.4,164.7 625.3,164.4 627.8,164.8 630.3,165.1 632.7,165.6 635.3,165.6 637.3,164.2 639.4,162.8 641.8,162.1 644.5,161.7 647.2,161.2 650.0,161.4 651.7,165.3 654.6,165.1 657.5,164.9 660.3,164.1 663.1,164.8 665.7,164.1 668.1,165.0 670.6,165.0 673.0,165.7 675.7,164.8 677.9,165.7 680.5,165.6 683.0,165.2 685.6,165.3 687.9,164.0 691.1,165.2 694.6,165.8 697.4,164.7 700.0,163.5 702.7,162.1 705.9,163.8 709.3,164.6 712.2,165.6 715.2,164.9 718.0,165.6 719.1,168.2 721.4,169.8 723.0,172.1 725.7,172.5 728.4,172.1 731.0,171.8 733.6,172.2 735.2,174.4 736.8,176.7 738.9,178.5 739.5,181.1 740.8,183.2 742.7,184.9 743.9,187.1 745.3,188.9 748.4,189.2 751.3,187.9 754.3,188.0 756.8,187.7 759.3,187.9 761.7,188.6 764.3,189.1 766.9,188.0 769.6,187.2 772.2,187.1 774.9,189.4 777.4,192.0 779.9,192.3 782.4,192.0 784.8,191.2 787.3,192.0 789.7,191.0 791.9,193.7 794.8,195.9 796.0,198.5 798.0,200.6 798.4,203.9 800.6,205.7 803.4,206.9 805.3,208.5 808.6,208.5 811.5,209.2 812.7,211.4 813.2,213.7 814.0,216.0 814.6,218.4 815.6,220.5 816.6,223.4 818.4,225.9 819.3,228.9 819.6,231.7 820.0,234.4 820.6,237.1 821.3,239.8 821.3,242.6 822.0,245.3 821.5,248.0 822.2,250.6 822.9,253.2 823.3,255.8 823.8,258.5 824.2,261.1 824.3,263.8 824.3,266.4 824.6,269.1 824.9,271.7 824.6,274.2 826.0,276.4 826.0,278.9 825.3,281.4 827.4,283.5 827.2,286.0 827.4,288.6 827.8,291.3 828.2,293.9 828.9,296.5 828.8,299.0 829.1,301.4 829.0,303.9 830.2,306.3 830.0,308.8 829.8,311.3 830.4,313.8 830.6,316.2 830.1,318.7 830.7,321.2 830.3,323.7 830.4,326.1 830.6,328.6 830.6,331.0 830.9,333.5 831.5,335.9 831.1,338.4 831.0,340.9 831.4,343.3 831.3,345.8 831.2,348.5 832.0,351.1 831.7,353.8 831.4,356.6 832.5,359.2 832.4,361.9 832.8,364.5 832.3,367.3 833.0,369.7 833.1,372.2 833.9,374.6 833.9,377.1 834.2,379.5 835.1,382.0 834.1,384.5 834.6,387.0 835.8,389.4 835.1,391.9 835.7,394.6 835.8,397.4 836.1,400.2 837.0,402.8 836.8,405.6 836.4,408.5 837.7,411.3 838.4,414.1 839.0,417.0 839.4,419.9 839.5,422.4 839.6,424.8 840.7,427.0 841.4,429.3 841.3,431.7 842.7,434.2 843.3,436.8 843.3,439.5 843.7,442.2 844.7,444.7 845.2,447.4 845.1,450.1 845.6,452.7 846.5,455.2 846.4,457.8 846.8,460.3 846.7,462.9 847.2,465.4 847.5,467.9 847.9,470.4 847.6,473.0 847.8,475.6 849.1,477.9 849.4,480.5 850.7,482.8 851.1,485.3 851.5,487.8 851.7,490.5 852.8,493.0 853.2,495.7 853.6,498.4 856.2,499.0 858.3,500.6 860.7,501.6 863.6,503.7 867.1,505.3 868.3,507.8 868.4,510.7 869.2,513.3 870.4,515.8 872.1,518.9 874.6,521.4 877.1,521.2 879.5,521.6 882.0,520.7 884.4,521.0 886.9,521.2 889.4,525.3 892.0,526.3 894.2,527.8 896.6,528.9 900.1,529.7 903.1,530.4 905.6,532.0 906.4,534.9 909.0,536.4 910.6,538.7 913.3,537.0 916.1,535.5 918.3,533.1 921.5,531.0 925.3,533.6 926.6,536.3 927.9,538.9 928.6,541.8 930.7,544.0 932.5,546.7 934.0,549.5 936.0,552.0 937.1,554.3 939.4,555.7 940.6,557.9 942.9,559.4 942.8,562.3 944.5,564.1 945.4,566.4 945.6,569.2 947.2,571.6 948.0,574.2 948.8,576.8 949.7,579.4 950.3,582.0 951.0,584.4 952.3,586.5 953.4,588.7 954.6,590.9 955.7,593.4 957.3,595.7 959.0,597.9 958.9,600.4 959.4,602.8 960.1,605.2 959.3,607.8 959.9,610.2 960.6,613.0 959.9,615.9 960.3,618.7 961.2,621.5 960.1,624.4 961.0,627.4 961.4,630.7 965.2,631.0 966.4,628.9 967.7,626.3 970.4,627.1 973.0,626.6 975.6,626.3 978.1,626.6 980.6,626.6 983.1,626.9 985.6,626.6 988.1,626.8 990.6,626.1 993.0,626.9 995.5,627.4 998.0,627.7 1000.5,627.2 1003.0,627.4" stroke-width="3.0" fill="none"/>
<polyline points="253.3,498.8 257.8,500.2 259.8,497.4 262.5,495.4 264.6,493.8 266.1,491.5 268.3,490.0 269.6,487.6 271.5,486.1 273.1,484.2 274.8,482.4 276.7,480.9 278.4,479.6 280.7,477.3 283.7,476.1 286.6,476.9 289.6,476.7 292.2,478.1 294.9,479.0 297.6,479.5 300.3,478.1 302.2,476.1 304.0,474.1 304.2,471.5 305.5,469.4 306.6,467.1 307.7,464.7 309.2,462.4 309.9,459.9 310.8,457.3 312.5,454.7 314.2,452.1 315.0,449.1 315.8,446.7 316.7,444.3 317.0,441.8 317.0,439.1 319.4,437.2 320.3,434.7 319.9,431.6 321.6,429.4 322.8,426.7 324.1,424.1 325.1,421.3 326.9,418.2 328.8,415.1 332.3,412.9 333.8,410.3 334.1,407.3 335.4,404.4 337.6,403.4 339.7,401.5 343.9,402.2 344.8,404.6 345.4,407.3 347.3,408.9 348.9,410.6 351.3,411.4 353.7,412.1 356.1,411.1 358.6,410.5 360.5,408.8 362.3,406.9 364.0,405.2 365.9,402.4 368.4,400.5 371.4,398.3 375.2,398.5 378.3,396.9 381.7,396.5 384.2,396.3 386.6,395.3 389.1,395.6 391.6,395.1 394.4,394.7 397.1,395.8 399.9,396.4 402.4,394.9 405.3,395.5 408.0,394.9 410.8,394.3 413.6,393.6 416.5,393.3 418.7,391.7 421.3,391.0 423.6,390.0 426.2,389.9 428.6,388.8 431.1,388.6 433.6,389.0 436.0,388.2 438.4,387.6 440.9,387.0 443.4,387.3 445.8,387.9 448.3,388.4 450.7,388.4 453.3,388.6 455.9,387.6 458.8,387.3 461.3,385.9 463.8,384.5 466.5,383.6 468.8,381.9 471.6,380.2 474.7,378.4 477.1,379.3 479.4,380.4 481.9,381.6 484.4,382.2 487.2,382.7 489.9,382.5 492.4,382.1 495.0,379.8 496.7,376.8 498.9,375.5 501.4,374.6 503.9,373.3 504.4,370.4 505.8,368.1 508.5,366.7 511.6,367.1 514.1,365.2 516.9,365.2 519.5,363.8 522.4,363.7 524.9,363.7 527.0,361.4 529.7,361.7 532.1,361.5 534.5,362.0 535.1,364.4 534.4,367.1 535.6,369.5 536.6,371.9 536.0,374.5 537.4,376.8 536.7,379.4 537.6,382.1 537.6,384.9 537.5,387.6 538.2,390.3 539.0,393.0 539.4,395.6 539.6,399.3 541.0,402.6 543.5,404.0 545.4,406.3 548.8,405.0 550.9,402.1 552.5,398.3 556.8,397.7 558.8,395.7 560.4,393.4 562.0,391.2 563.8,388.6 566.7,388.0 569.5,387.7 572.4,388.1 574.8,386.5 577.4,385.4 579.9,384.3 581.8,382.6 583.1,380.4 585.2,378.9 586.3,376.3 588.2,374.5 589.6,372.3 591.4,370.3 593.4,368.2 595.4,366.0 598.2,365.0 600.8,363.6 603.5,362.2 606.3,361.4 608.6,359.9 610.2,357.7 612.4,356.3 614.5,354.9 617.8,354.2 621.1,353.3 624.7,354.0 627.4,356.4 630.4,358.5 632.3,360.8 634.1,363.1 635.7,365.6 637.7,367.4 639.6,369.3 641.1,371.3 644.6,371.2 647.9,371.2 649.5,368.8 651.8,367.0 653.3,364.1 656.1,364.1 658.8,362.9 660.7,364.5 662.7,366.1 665.2,366.9 667.6,367.9 669.5,369.7 671.6,371.3 674.1,372.3 675.9,374.2 677.8,376.0 679.6,378.3 681.0,380.9 682.3,383.4 684.1,386.0 687.6,385.8 691.0,385.5 693.2,387.1 695.2,389.0 697.4,390.8 699.4,392.6 701.4,394.4 703.4,395.5 706.0,396.1 708.7,396.2 711.5,395.9 713.6,398.0 715.8,399.9 718.4,401.5 719.2,404.1 722.2,405.3 723.0,408.0 724.7,409.5 726.8,411.2 729.0,412.5 732.0,411.3 734.1,412.9 736.2,415.0 738.6,416.8 740.6,419.0 743.5,420.2 744.4,422.8 746.3,424.4 748.1,426.1 750.0,427.6 752.5,428.9 755.3,429.4 757.8,430.5 760.5,431.1 763.4,430.6 766.1,431.6 768.9,431.9 771.7,432.3 774.7,431.9 776.8,434.0 779.0,435.9 781.5,437.6 784.0,439.0 786.5,440.4 789.6,440.4 792.7,441.4 793.6,444.6 795.1,447.4 797.1,450.0 799.5,451.4 802.2,452.4 804.4,453.8 807.3,454.4 810.3,453.8 813.8,453.8 814.7,456.3 814.7,459.3 816.1,461.7 819.1,463.6 821.4,466.3 821.5,468.9 822.4,471.3 822.2,473.9 823.2,476.2 824.1,478.6 823.7,481.6 825.0,484.3 825.2,487.2 825.8,490.0 826.4,492.8 827.1,495.9 828.4,498.8 829.4,501.3 830.1,503.8 830.3,506.4 830.7,509.0 831.0,511.6 831.6,514.1 831.8,516.8 832.4,519.4 833.2,522.0 833.6,524.7 834.6,527.2 834.3,530.0 834.5,533.0 834.9,535.9 835.6,538.8 836.1,541.8 837.2,544.2 839.0,546.2 840.3,548.5 841.9,550.6 843.4,553.0 844.5,555.7 846.5,557.8 847.9,560.3 849.5,562.7 850.8,565.1 851.3,567.9 852.5,570.4 854.4,572.5 856.6,574.4 858.9,576.4 861.5,578.1 864.5,577.8 867.2,576.5 870.2,576.3 873.1,576.9 876.0,577.5 879.0,577.2 882.0,577.7 884.9,578.6 887.9,579.3 890.5,580.1 892.9,581.8 895.8,581.9 898.3,583.0 900.5,584.4 902.9,584.6 905.3,584.9 907.8,585.1 910.0,586.1 912.2,587.1 915.0,587.4 917.5,588.3 920.3,588.6 922.9,589.4 925.8,589.4 928.8,589.9 931.4,590.4 934.4,591.7 936.4,594.1 938.7,596.3 941.0,597.1 943.2,598.3 945.2,599.8 947.1,601.3 949.6,602.1 951.8,603.3 954.4,604.0 955.7,606.3 958.0,608.0 959.8,610.2 960.8,613.1 961.0,616.1 961.7,618.7 965.1,621.7 968.6,624.5 970.9,624.9 973.2,625.5 975.6,625.7 978.1,626.7 980.6,626.1 983.1,625.8 985.6,626.6 988.1,626.5 990.6,626.6 993.0,627.0 995.5,627.4 998.0,627.0 1000.5,627.6 1003.0,627.8" stroke-width="2.2" fill="none"/>
<polyline points="253.4,672.2 256.2,671.6 259.0,670.9 261.5,668.5 264.0,666.0 266.9,664.9 269.8,664.1 272.5,663.9 275.3,663.2 278.0,664.3 280.8,664.5 283.4,665.7 286.3,665.8 288.7,666.9 291.2,668.4 293.9,667.2 296.7,667.2 299.2,667.1 301.4,665.6 303.8,664.7 306.1,663.4 307.4,661.2 308.9,658.8 311.1,657.7 313.4,657.1 317.3,656.7 319.0,654.8 320.8,652.9 324.2,652.9 327.7,652.7 330.8,651.1 334.0,649.6 336.9,649.4 339.8,649.8 342.7,649.4 345.5,648.7" stroke-width="2.6" fill="none"/>
<polyline points="346.3,619.0 349.4,618.2 352.3,617.0 355.3,615.8 357.7,614.8 360.1,613.7 362.7,613.1 365.1,611.9 367.7,612.5 370.2,611.9 372.5,610.8 375.2,611.4 377.6,610.8 379.9,609.3 382.8,610.3 385.4,609.6 388.1,609.7 390.6,608.1 393.4,608.4 396.1,608.1 398.7,607.6 401.4,607.3 403.9,607.5 406.3,606.5 408.8,606.5 411.3,606.3 413.8,606.6 416.2,606.5 418.7,606.8 421.2,606.6 423.7,606.5 426.1,606.1 428.6,606.1 431.1,606.6 433.7,606.6 436.3,606.5 439.0,606.5 441.7,607.3 444.0,605.9 446.6,605.7 449.1,605.3 451.5,604.2 454.2,603.8 456.6,602.2 459.5,602.2 462.0,601.0 464.4,599.6 467.2,599.6 469.6,598.7 472.2,599.3 474.6,598.2 477.1,598.2 479.5,598.1 482.0,597.6 484.5,597.5 486.9,597.0 489.6,597.1 491.1,594.8 492.7,592.8 495.4,591.1 498.5,591.9 501.3,590.9 504.1,589.6 507.1,589.9 510.0,589.6 512.9,589.4 515.7,588.2 518.3,589.1 520.9,588.3 523.5,589.2 526.0,588.1 528.6,588.3 531.2,587.8 533.8,587.8" stroke-width="2.6" fill="none"/>
<polyline points="536.4,477.9 536.3,481.5 537.2,484.9 537.6,488.0 538.5,491.0 539.6,493.8 541.7,494.9 545.2,491.9 546.5,489.3 547.8,486.6 549.6,484.2 550.3,481.8 551.0,479.5 551.9,477.2 552.7,474.9 554.5,472.8 556.4,470.7 558.2,468.5 558.8,465.7 559.7,463.1 561.9,461.1 562.6,458.4 565.1,457.1 566.7,454.7 568.8,452.9 570.7,450.8 572.1,448.2 574.5,446.9 577.0,445.8 579.4,444.1 580.4,441.9 580.4,439.2 581.2,436.6 583.4,435.3 585.1,433.5 586.5,431.5 587.9,429.2 591.0,428.5 593.8,427.1 596.5,425.7 599.1,424.0 601.9,422.9 604.8,421.7 606.7,419.8 608.6,418.0 611.2,417.3 613.7,417.3 616.2,417.1 618.6,417.3 621.2,416.7 624.1,417.9 627.0,418.9 629.9,420.1 632.7,421.3 635.8,421.5 638.3,422.7 641.0,422.8 643.9,422.7 646.5,420.5 649.2,418.7 651.6,417.2 654.2,416.4 656.8,417.1 659.0,418.8 661.3,420.2 663.9,421.0 666.8,420.7 669.8,420.1 672.7,420.0 675.2,421.2 676.9,423.7 679.4,425.0 681.5,426.5 684.4,426.3 687.3,426.0 690.1,426.3 692.2,427.5 694.8,427.7 696.6,429.6 699.1,430.7 701.9,429.3 704.7,428.1 707.9,427.5 710.8,428.4 713.6,429.7 716.7,430.3 719.4,431.6 721.2,434.0 723.6,435.1 726.3,435.8 728.8,434.8 731.5,434.8 734.3,434.6 736.6,436.7 738.5,439.3 741.1,441.3 744.0,442.0 747.0,442.6 749.9,442.6 752.6,443.1 755.2,443.2 757.9,443.1 760.5,443.8 762.9,443.0 765.4,442.8 767.8,442.4 770.3,441.7 772.7,442.4 775.3,443.5 778.0,443.9 780.8,444.2 783.0,444.4 786.0,444.6 788.7,444.0 791.1,442.8 793.0,445.3 794.8,447.7 797.1,450.1 800.1,451.1 802.4,453.2 805.3,454.7 807.9,453.8 810.6,454.2 813.7,454.2 814.1,456.8 814.7,459.2 816.1,461.2 818.1,462.7 819.0,465.3 821.0,466.7 821.1,469.2 822.8,471.3 822.5,473.8 822.7,476.3 823.3,478.6 824.7,480.8 825.0,483.3 825.7,485.8 825.7,488.4 826.2,490.9 827.1,493.3 828.1,495.7 827.8,498.4 828.9,500.9 829.0,503.6 829.8,506.2 829.8,509.0 830.6,511.6 831.8,514.1 831.9,516.8 831.8,519.5 833.1,522.0 833.2,524.7 833.3,527.4 833.7,530.1 834.7,532.7 836.0,535.1 836.7,537.8 836.8,540.5 837.3,542.9 837.0,545.4 838.8,547.5 838.6,550.0 839.2,552.4 840.8,554.5 841.2,556.9 841.5,559.4 842.4,561.6 843.0,564.0 843.5,566.4 844.6,568.6 844.8,571.1 845.9,573.3 846.8,576.0 847.2,578.7 848.5,581.2 849.1,584.0 849.5,586.8 850.9,589.2 851.8,591.6 852.4,594.1 853.7,596.4 854.3,599.2 857.2,599.0 859.6,600.4 862.4,600.6 865.2,601.3 866.2,604.1 868.8,605.6 869.7,608.4 872.0,610.5 874.4,610.8 876.9,610.0 879.4,610.9 881.8,611.1 884.3,610.6 887.1,611.2 889.7,612.8 892.7,612.5 895.5,612.9 898.4,613.5 900.9,615.2 903.5,616.5 906.2,617.7 908.7,619.6 911.5,619.6 914.2,620.5 917.1,618.8 919.4,616.0 922.1,616.5 924.3,616.5 927.3,617.1 929.6,618.8 931.9,620.5 934.3,622.0 936.0,624.4 938.7,625.5 940.4,627.9 941.9,630.1 944.5,631.3 945.9,633.5 948.1,635.1 949.1,637.7 951.2,639.2 952.9,641.3 954.5,643.3 956.1,645.3 958.1,647.0 960.6,649.3 963.5,651.5 963.9,654.1 965.0,656.6 965.2,659.4 965.9,662.0 968.4,661.7 970.8,661.9 973.3,662.3 975.8,662.0 978.3,661.8 980.7,662.0 983.2,661.8 985.7,661.7 988.2,661.9 990.6,662.1 993.1,662.1 995.6,662.0 998.1,661.8 1000.5,661.8 1003.0,662.0" stroke-width="2.6" fill="none"/>
<polyline points="253.3,659.4 256.2,658.8 258.7,658.4 260.5,655.6 262.9,653.2 266.6,652.6 268.9,649.6 271.6,649.8 274.3,649.8 276.9,649.6 279.6,649.4 283.0,649.8 286.4,650.9 288.3,653.4 291.2,654.2 294.4,654.8 297.3,654.0 299.6,652.8 301.6,651.2 303.9,649.7 304.2,646.9 305.9,644.7 306.9,642.2 308.7,639.9 310.9,638.2 313.7,636.9 316.4,636.3 318.3,633.5 319.9,629.6 322.5,630.3 324.9,629.7 327.2,629.3 329.5,628.6 331.9,627.9 334.0,626.4 337.0,626.1 339.6,624.4 342.5,623.8 345.5,623.7" stroke-width="3.0" fill="none"/>
<polyline points="346.4,613.9 350.5,612.6 353.3,611.5 355.7,609.5 358.6,608.7 361.1,608.4 363.6,608.4 366.0,608.1 368.8,608.4 370.6,606.3 372.7,604.6 375.1,602.8 377.9,603.8 380.6,603.1 383.4,603.0 386.1,603.0 388.9,603.2 391.5,602.9 394.8,602.5 398.1,601.8 400.6,601.7 403.2,601.7 405.7,601.6 408.3,601.8 410.8,601.7 413.3,601.8 415.9,601.8 418.4,601.9 420.9,601.4 423.5,601.7 426.0,601.7 428.6,601.9 431.1,601.2 433.7,601.5 436.4,601.7 439.0,601.7 441.6,602.2 444.1,601.4 446.6,601.8 449.0,600.6 451.0,600.5 454.8,598.2 457.5,597.8 460.2,597.7 462.8,597.4 465.7,597.4 467.2,593.1 469.7,593.9 472.1,593.2 474.6,593.7 477.1,593.2 479.5,592.4 482.0,592.5 484.5,593.3 486.9,592.7 489.3,592.6 491.0,589.2 493.9,588.9 496.7,588.9 500.1,586.2 502.6,586.3 505.0,586.8 507.5,586.2 509.9,586.9 513.0,586.6 514.1,584.4 516.8,584.1 519.6,583.7 522.3,583.7 524.0,581.1 526.5,580.9 528.9,581.2 531.3,581.0 533.2,581.4 534.5,583.8 535.7,586.1 537.3,588.7 537.7,591.7 538.8,594.2 542.7,595.3 545.1,593.8 547.2,592.1 549.9,590.7 551.6,588.4 554.3,586.9 555.6,584.3 557.7,582.4 560.1,581.0 561.8,578.7 564.3,577.5 566.7,576.1 569.1,574.8 572.0,574.3 574.6,572.8 577.5,571.6 579.8,569.6 582.2,568.2 584.3,566.5 587.0,565.6 588.8,563.3 591.5,562.5 593.9,561.7 596.3,560.8 598.2,559.0 600.8,558.7 602.9,557.1 605.2,556.0 607.4,554.7 610.1,554.5 612.5,553.5 614.5,551.7 617.9,552.3 621.1,553.1 624.5,553.7 627.6,552.8 630.6,552.8 633.1,553.3 635.3,554.6 637.5,556.2 640.0,557.4 642.7,557.5 644.4,555.8 646.2,554.2 647.9,552.0 651.2,552.3 654.4,550.9 657.1,553.1 660.4,553.5 663.2,553.5 666.0,554.0 668.8,553.5 671.6,554.0 674.4,553.6 677.0,555.2 679.0,557.6 681.5,559.6 684.0,558.9 686.3,560.7 688.8,560.6 691.2,561.0 693.8,560.4 696.7,561.2 699.6,561.8 702.6,562.7 704.8,561.4 707.2,561.2 709.8,560.3 712.5,561.6 715.4,562.4 718.6,562.4 720.5,564.0 722.3,565.6 724.5,567.3 727.1,566.9 729.7,566.5 732.3,566.1 735.0,566.1 737.7,566.2 739.9,567.7 742.3,568.9 744.6,570.8 747.6,570.6 750.5,570.4 753.7,571.6 756.2,569.7 758.7,567.6 761.3,567.4 764.0,567.1 766.6,567.5 769.2,568.3 771.9,567.7 774.7,567.7 777.1,569.7 779.8,571.2 782.6,571.3 785.4,571.3 788.2,571.6 791.0,570.8 793.6,571.4 796.7,572.5 799.1,574.9 801.7,574.8 804.4,575.0 807.0,575.4 809.6,575.2 812.2,575.8 814.7,575.8 816.9,577.0 819.2,578.3 821.4,579.8 822.4,582.2 823.3,584.7 824.3,587.2 824.7,590.5 827.9,591.9 828.4,594.5 829.7,597.0 830.2,599.6 830.7,602.3 831.2,605.0 832.3,607.5 831.9,610.5 833.8,612.5 834.3,615.2 836.6,617.1 836.9,619.9 838.9,622.0 840.9,624.0 842.8,626.1 844.1,628.3 845.4,630.4 847.3,632.3 848.1,634.7 849.8,636.6 850.1,639.3 851.4,641.5 852.7,643.5 855.2,643.7 857.7,644.1 860.0,645.4 862.4,645.7 865.0,645.4 867.1,647.3 870.0,647.8 872.0,649.0 874.6,649.7 877.3,649.7 879.9,649.9 882.5,650.4 885.1,651.6 887.8,650.4 890.4,651.0 893.0,651.4 895.7,651.6 898.2,652.3 900.5,653.2 903.1,652.5 905.3,653.6 907.7,653.9 910.0,654.6 912.2,654.5 914.5,653.5 916.8,652.4 919.4,652.6 922.9,652.5 926.4,652.4 929.1,652.9 930.9,654.9 933.1,656.1 935.3,657.1 937.9,657.9 940.4,659.2 943.0,659.8 945.7,660.3 948.0,662.2 950.6,663.6 952.8,665.5 955.1,666.7 957.4,668.1 959.8,669.1 961.6,670.8 963.4,672.5 965.1,674.1 967.7,675.3 970.3,674.8 973.0,674.9 975.7,675.8 978.2,675.2 980.6,673.9 983.2,674.6 985.7,674.4 988.2,674.6 990.7,674.2 993.1,673.8 995.7,673.5 998.2,674.0 1000.5,674.9 1003.0,675.2" stroke-width="3.0" fill="none"/>
<polyline points="253.3,671.9 256.0,671.4 258.6,671.7 261.2,671.8 263.9,672.0 266.5,672.2 268.9,671.9 271.4,671.4 273.9,672.3 276.5,672.3 279.2,670.7 281.9,670.1 285.4,671.9 288.0,672.0 290.5,671.9 293.1,671.4 295.7,671.9 298.3,672.1 300.9,671.4 303.4,672.4 306.7,672.1 308.5,668.3 311.5,668.1 314.5,667.3 317.4,666.7 319.0,664.8 320.8,662.9 323.7,663.3 326.6,663.3 329.4,663.7 331.9,662.8 335.0,662.9 337.2,661.5 338.9,659.4 342.2,659.4 345.5,658.9" stroke-width="2.8" fill="none"/>
<polyline points="346.3,622.6 349.0,621.9 351.6,621.1 354.3,620.5 356.9,619.6 359.9,619.3 362.7,618.6 365.7,618.1 368.4,617.1 371.1,616.9 373.8,616.5 376.5,616.2 379.0,615.1 381.7,615.2 384.2,615.1 386.7,614.6 389.1,613.9 391.5,613.6 394.0,613.3 396.5,613.4 399.0,613.4 401.4,612.4 403.9,612.1 406.5,612.3 409.0,612.1 411.6,611.5 414.1,611.4 416.7,611.5 419.2,611.7 421.7,610.8 424.3,610.7 426.9,611.1 429.4,610.3 432.0,610.8 434.5,610.9 437.1,610.8 439.6,610.4 442.2,610.8 444.8,610.7 447.3,610.9 449.8,610.5 452.9,610.6 455.5,609.0 458.5,608.9 461.4,608.4 463.8,607.6 465.7,606.0 468.0,605.3 470.7,604.6 473.5,604.8 476.3,604.9 478.9,603.8 481.7,603.9 484.3,603.1 487.0,603.2 489.5,602.6 491.8,601.6 494.1,600.6 496.8,600.1 499.4,599.4 501.9,598.3 504.3,597.2 506.8,595.7 509.6,595.5 512.4,595.7 514.8,594.5 517.4,595.2 519.9,595.3 522.3,594.7 525.2,594.4 528.0,593.4 530.9,592.7 533.8,592.7" stroke-width="2.6" fill="none"/>
</g>
<g stroke="#111" fill="none" stroke-linecap="round">
<path d="M402.7,366.5 C402,376 394.5,384 392.3,394.6" stroke-width="1.5" fill="none"/>
<path d="M482.5,449.3 C481,460 474,466 472.1,475.7" stroke-width="1.5" fill="none"/>
<path d="M784,158.1 C783,168 774.5,176 772.4,186.1" stroke-width="1.5" fill="none"/>
<path d="M666.5,421.6 C664,431 657,435 656.9,447.1" stroke-width="1.5" fill="none"/>
<path d="M701.3,531.6 C700,541 692.5,548 690.2,557.9" stroke-width="1.5" fill="none"/>
</g>
<g stroke="#222" fill="none">
<rect x="534.3" y="755.9" width="142.4" height="115.9" stroke-width="1.8"/>
<line x1="534.3" y1="761.0" x2="676.7" y2="761.0" stroke-width="1.5"/>
<line x1="671.0" y1="761.0" x2="671.0" y2="871.8" stroke-width="1.5"/>
<line x1="640.2" y1="761.0" x2="640.2" y2="871.8" stroke-width="1.8"/>
<rect x="641.6" y="764.1" width="28.2" height="18.8" stroke-width="1.6"/>
<path d="M644.5,777.9 L655.4,769.7 L666.8,777.9" stroke-width="1.6" fill="none" stroke-linejoin="miter"/>
<path d="M667.7,769.9 C679,771.4 684,781.9 697.4,782.9" stroke-width="1.5" fill="none"/>
<rect x="641.6" y="785.8" width="28.2" height="18.4" stroke-width="1.6"/>
<path d="M644.5,799.4 L655.4,791.2 L666.8,799.4" stroke-width="1.6" fill="none" stroke-linejoin="miter"/>
<path d="M667.7,791.2 C679,792.8 684,803.2 697.4,804.2" stroke-width="1.5" fill="none"/>
<rect x="641.6" y="807.1" width="28.2" height="18.4" stroke-width="1.6"/>
<path d="M644.5,820.7 L655.4,812.5 L666.8,820.7" stroke-width="1.6" fill="none" stroke-linejoin="miter"/>
<path d="M667.7,812.6 C679,814.1 684,824.6 697.4,825.6" stroke-width="1.5" fill="none"/>
<rect x="641.6" y="828.8" width="28.2" height="18.0" stroke-width="1.6"/>
<path d="M644.5,842.2 L655.4,834.0 L666.8,842.2" stroke-width="1.6" fill="none" stroke-linejoin="miter"/>
<path d="M667.7,834.0 C679,835.5 684,846.0 697.4,847.0" stroke-width="1.5" fill="none"/>
<rect x="641.6" y="850.1" width="28.2" height="18.9" stroke-width="1.6"/>
<path d="M644.5,863.9 L655.4,855.8 L666.8,863.9" stroke-width="1.6" fill="none" stroke-linejoin="miter"/>
<path d="M667.7,855.3 C679,856.8 684,867.3 697.4,868.3" stroke-width="1.5" fill="none"/>
</g>
<g fill="#111" font-family="'Liberation Sans', sans-serif" text-rendering="geometricPrecision" stroke="#fff" stroke-width="0.4">
<text transform="translate(104.4,99.2) scale(0.587,1)" text-anchor="end" font-size="25.6">500</text>
<text transform="translate(104.4,129.2) scale(0.587,1)" text-anchor="end" font-size="25.6">475</text>
<text transform="translate(104.4,158.8) scale(0.587,1)" text-anchor="end" font-size="25.6">450</text>
<text transform="translate(104.4,188.2) scale(0.587,1)" text-anchor="end" font-size="25.6">425</text>
<text transform="translate(104.4,217.8) scale(0.587,1)" text-anchor="end" font-size="25.6">400</text>
<text transform="translate(104.4,248.0) scale(0.587,1)" text-anchor="end" font-size="25.6">375</text>
<text transform="translate(104.4,278.3) scale(0.587,1)" text-anchor="end" font-size="25.6">350</text>
<text transform="translate(104.4,309.6) scale(0.587,1)" text-anchor="end" font-size="25.6">325</text>
<text transform="translate(104.4,337.6) scale(0.587,1)" text-anchor="end" font-size="25.6">300</text>
<text transform="translate(104.4,367.6) scale(0.587,1)" text-anchor="end" font-size="25.6">275</text>
<text transform="translate(104.4,396.7) scale(0.587,1)" text-anchor="end" font-size="25.6">250</text>
<text transform="translate(104.4,427.0) scale(0.587,1)" text-anchor="end" font-size="25.6">225</text>
<text transform="translate(104.4,456.8) scale(0.587,1)" text-anchor="end" font-size="25.6">200</text>
<text transform="translate(104.4,485.8) scale(0.587,1)" text-anchor="end" font-size="25.6">175</text>
<text transform="translate(104.4,513.6) scale(0.587,1)" text-anchor="end" font-size="25.6">150</text>
<text transform="translate(104.4,543.8) scale(0.587,1)" text-anchor="end" font-size="25.6">125</text>
<text transform="translate(104.4,574.1) scale(0.587,1)" text-anchor="end" font-size="25.6">100</text>
<text transform="translate(104.4,605.6) scale(0.587,1)" text-anchor="end" font-size="25.6">75</text>
<text transform="translate(104.4,634.1) scale(0.587,1)" text-anchor="end" font-size="25.6">50</text>
<text transform="translate(104.4,663.6) scale(0.587,1)" text-anchor="end" font-size="25.6">25</text>
<text transform="translate(104.4,694.2) scale(0.587,1)" text-anchor="end" font-size="25.6">0</text>
<text transform="translate(175.6,99.2) scale(0.587,1)" text-anchor="end" font-size="25.6">250</text>
<text transform="translate(175.6,158.8) scale(0.587,1)" text-anchor="end" font-size="25.6">225</text>
<text transform="translate(175.6,217.8) scale(0.587,1)" text-anchor="end" font-size="25.6">200</text>
<text transform="translate(175.6,278.3) scale(0.587,1)" text-anchor="end" font-size="25.6">175</text>
<text transform="translate(175.6,337.6) scale(0.587,1)" text-anchor="end" font-size="25.6">150</text>
<text transform="translate(175.6,396.7) scale(0.587,1)" text-anchor="end" font-size="25.6">125</text>
<text transform="translate(175.6,456.8) scale(0.587,1)" text-anchor="end" font-size="25.6">100</text>
<text transform="translate(175.6,513.6) scale(0.587,1)" text-anchor="end" font-size="25.6">75</text>
<text transform="translate(175.6,574.1) scale(0.587,1)" text-anchor="end" font-size="25.6">50</text>
<text transform="translate(175.6,634.1) scale(0.587,1)" text-anchor="end" font-size="25.6">25</text>
<text transform="translate(175.6,694.2) scale(0.587,1)" text-anchor="end" font-size="25.6">0</text>
<text transform="translate(238.0,99.2) scale(0.587,1)" text-anchor="end" font-size="25.6">40</text>
<text transform="translate(238.0,129.2) scale(0.587,1)" text-anchor="end" font-size="25.6">38</text>
<text transform="translate(238.0,158.8) scale(0.587,1)" text-anchor="end" font-size="25.6">36</text>
<text transform="translate(238.0,188.2) scale(0.587,1)" text-anchor="end" font-size="25.6">34</text>
<text transform="translate(238.0,217.8) scale(0.587,1)" text-anchor="end" font-size="25.6">32</text>
<text transform="translate(238.0,248.0) scale(0.587,1)" text-anchor="end" font-size="25.6">30</text>
<text transform="translate(238.0,278.3) scale(0.587,1)" text-anchor="end" font-size="25.6">28</text>
<text transform="translate(238.0,309.6) scale(0.587,1)" text-anchor="end" font-size="25.6">26</text>
<text transform="translate(238.0,337.6) scale(0.587,1)" text-anchor="end" font-size="25.6">24</text>
<text transform="translate(238.0,367.6) scale(0.587,1)" text-anchor="end" font-size="25.6">22</text>
<text transform="translate(238.0,396.7) scale(0.587,1)" text-anchor="end" font-size="25.6">20</text>
<text transform="translate(238.0,427.0) scale(0.587,1)" text-anchor="end" font-size="25.6">18</text>
<text transform="translate(238.0,456.8) scale(0.587,1)" text-anchor="end" font-size="25.6">16</text>
<text transform="translate(238.0,485.8) scale(0.587,1)" text-anchor="end" font-size="25.6">14</text>
<text transform="translate(238.0,513.6) scale(0.587,1)" text-anchor="end" font-size="25.6">12</text>
<text transform="translate(238.0,543.8) scale(0.587,1)" text-anchor="end" font-size="25.6">10</text>
<text transform="translate(238.0,574.1) scale(0.587,1)" text-anchor="end" font-size="25.6">8</text>
<text transform="translate(238.0,605.6) scale(0.587,1)" text-anchor="end" font-size="25.6">6</text>
<text transform="translate(238.0,634.1) scale(0.587,1)" text-anchor="end" font-size="25.6">4</text>
<text transform="translate(238.0,663.6) scale(0.587,1)" text-anchor="end" font-size="25.6">2</text>
<text transform="translate(238.0,694.2) scale(0.587,1)" text-anchor="end" font-size="25.6">0</text>
<text transform="translate(1025.2,99.2) scale(0.587,1)" text-anchor="start" font-size="25.6">55.8</text>
<text transform="translate(1025.2,129.2) scale(0.587,1)" text-anchor="start" font-size="25.6">55.78</text>
<text transform="translate(1025.2,158.8) scale(0.587,1)" text-anchor="start" font-size="25.6">55.76</text>
<text transform="translate(1025.2,188.2) scale(0.587,1)" text-anchor="start" font-size="25.6">55.74</text>
<text transform="translate(1025.2,217.8) scale(0.587,1)" text-anchor="start" font-size="25.6">55.72</text>
<text transform="translate(1025.2,248.0) scale(0.587,1)" text-anchor="start" font-size="25.6">55.7</text>
<text transform="translate(1025.2,278.3) scale(0.587,1)" text-anchor="start" font-size="25.6">55.68</text>
<text transform="translate(1025.2,309.6) scale(0.587,1)" text-anchor="start" font-size="25.6">55.66</text>
<text transform="translate(1025.2,337.6) scale(0.587,1)" text-anchor="start" font-size="25.6">55.64</text>
<text transform="translate(1025.2,367.6) scale(0.587,1)" text-anchor="start" font-size="25.6">55.62</text>
<text transform="translate(1025.2,396.7) scale(0.587,1)" text-anchor="start" font-size="25.6">55.60</text>
<text transform="translate(1025.2,427.0) scale(0.587,1)" text-anchor="start" font-size="25.6">55.58</text>
<text transform="translate(1025.2,456.8) scale(0.587,1)" text-anchor="start" font-size="25.6">55.56</text>
<text transform="translate(1025.2,485.8) scale(0.587,1)" text-anchor="start" font-size="25.6">55.54</text>
<text transform="translate(1025.2,513.6) scale(0.587,1)" text-anchor="start" font-size="25.6">55.52</text>
<text transform="translate(1025.2,543.8) scale(0.587,1)" text-anchor="start" font-size="25.6">55.50</text>
<text transform="translate(1025.2,574.1) scale(0.587,1)" text-anchor="start" font-size="25.6">55.48</text>
<text transform="translate(1025.2,605.6) scale(0.587,1)" text-anchor="start" font-size="25.6">55.46</text>
<text transform="translate(1025.2,634.1) scale(0.587,1)" text-anchor="start" font-size="25.6">55.44</text>
<text transform="translate(1025.2,663.6) scale(0.587,1)" text-anchor="start" font-size="25.6">55.42</text>
<text transform="translate(1025.2,694.2) scale(0.587,1)" text-anchor="start" font-size="25.6">55.40</text>
<text transform="translate(1110.0,99.0) scale(0.587,1)" text-anchor="start" font-size="25.6">1500</text>
<text transform="translate(1110.0,138.8) scale(0.587,1)" text-anchor="start" font-size="25.6">1400</text>
<text transform="translate(1110.0,176.8) scale(0.587,1)" text-anchor="start" font-size="25.6">1300</text>
<text transform="translate(1110.0,216.0) scale(0.587,1)" text-anchor="start" font-size="25.6">1200</text>
<text transform="translate(1110.0,255.2) scale(0.587,1)" text-anchor="start" font-size="25.6">1100</text>
<text transform="translate(1110.0,295.7) scale(0.587,1)" text-anchor="start" font-size="25.6">1000</text>
<text transform="translate(1110.0,334.9) scale(0.587,1)" text-anchor="start" font-size="25.6">900</text>
<text transform="translate(1110.0,376.0) scale(0.587,1)" text-anchor="start" font-size="25.6">800</text>
<text transform="translate(1110.0,415.2) scale(0.587,1)" text-anchor="start" font-size="25.6">700</text>
<text transform="translate(1110.0,454.8) scale(0.587,1)" text-anchor="start" font-size="25.6">600</text>
<text transform="translate(1110.0,492.1) scale(0.587,1)" text-anchor="start" font-size="25.6">500</text>
<text transform="translate(1110.0,531.3) scale(0.587,1)" text-anchor="start" font-size="25.6">400</text>
<text transform="translate(1110.0,573.7) scale(0.587,1)" text-anchor="start" font-size="25.6">300</text>
<text transform="translate(1110.0,613.8) scale(0.587,1)" text-anchor="start" font-size="25.6">200</text>
<text transform="translate(1110.0,652.1) scale(0.587,1)" text-anchor="start" font-size="25.6">100</text>
<text transform="translate(1110.0,694.1) scale(0.587,1)" text-anchor="start" font-size="25.6">0</text>
<text transform="translate(252.6,724.4) scale(0.587,1)" text-anchor="middle" font-size="25.6">0</text>
<text transform="translate(315.1,724.4) scale(0.587,1)" text-anchor="middle" font-size="25.6">1</text>
<text transform="translate(377.5,724.4) scale(0.587,1)" text-anchor="middle" font-size="25.6">2</text>
<text transform="translate(440.0,724.4) scale(0.587,1)" text-anchor="middle" font-size="25.6">3</text>
<text transform="translate(502.5,724.4) scale(0.587,1)" text-anchor="middle" font-size="25.6">4</text>
<text transform="translate(565.0,724.4) scale(0.587,1)" text-anchor="middle" font-size="25.6">5</text>
<text transform="translate(627.4,724.4) scale(0.587,1)" text-anchor="middle" font-size="25.6">6</text>
<text transform="translate(689.9,724.4) scale(0.587,1)" text-anchor="middle" font-size="25.6">7</text>
<text transform="translate(752.4,724.4) scale(0.587,1)" text-anchor="middle" font-size="25.6">8</text>
<text transform="translate(814.8,724.4) scale(0.587,1)" text-anchor="middle" font-size="25.6">9</text>
<text transform="translate(877.3,724.4) scale(0.587,1)" text-anchor="middle" font-size="25.6">10</text>
<text transform="translate(939.8,724.4) scale(0.587,1)" text-anchor="middle" font-size="25.6">11</text>
<text transform="translate(1002.2,724.4) scale(0.587,1)" text-anchor="middle" font-size="25.6">12</text>
<text transform="translate(632.0,747.6) scale(0.587,1)" text-anchor="middle" font-size="25.6">TIME (SECONDS)</text>
<text transform="translate(68.0,390.5) rotate(-90) scale(0.601675,1)" text-anchor="middle" font-size="25.6">CURRENT (mA)</text>
<text transform="translate(143.2,391.0) rotate(-90) scale(0.601675,1)" text-anchor="middle" font-size="25.6">VOLTAGE (AC)</text>
<text transform="translate(213.4,390.0) rotate(-90) scale(0.601675,1)" text-anchor="middle" font-size="25.6">POWER (WATTS)</text>
<text transform="translate(1086.2,388.4) rotate(-90) scale(0.601675,1)" text-anchor="middle" font-size="25.6">FREQUENCY (kHz)</text>
<text transform="translate(1166.6,390.2) rotate(-90) scale(0.601675,1)" text-anchor="middle" font-size="25.6">IMPEDANCE (Ohms)</text>
<text transform="translate(402.9,362.4) scale(0.587,1)" text-anchor="middle" font-size="25.6">340</text>
<text transform="translate(482.0,444.1) scale(0.587,1)" text-anchor="middle" font-size="25.6">300</text>
<text transform="translate(783.2,153.4) scale(0.587,1)" text-anchor="middle" font-size="25.6">320</text>
<text transform="translate(656.4,467.8) scale(0.587,1)" text-anchor="middle" font-size="25.6">310</text>
<text transform="translate(700.4,526.3) scale(0.587,1)" text-anchor="middle" font-size="25.6">330</text>
<text transform="translate(587.4,782.0) scale(0.587,1)" text-anchor="middle" font-size="25.6">CURRENT</text>
<text transform="translate(587.4,803.1) scale(0.587,1)" text-anchor="middle" font-size="25.6">VOLTAGE</text>
<text transform="translate(587.4,824.3) scale(0.587,1)" text-anchor="middle" font-size="25.6">POWER</text>
<text transform="translate(587.4,845.5) scale(0.587,1)" text-anchor="middle" font-size="25.6">IMPEDANCE</text>
<text transform="translate(587.4,866.6) scale(0.587,1)" text-anchor="middle" font-size="25.6">FREQUENCY</text>
<text transform="translate(700.6,791.1) scale(0.587,1)" text-anchor="start" font-size="25.6">300</text>
<text transform="translate(700.6,812.5) scale(0.587,1)" text-anchor="start" font-size="25.6">310</text>
<text transform="translate(700.6,834.0) scale(0.587,1)" text-anchor="start" font-size="25.6">320</text>
<text transform="translate(700.6,855.4) scale(0.587,1)" text-anchor="start" font-size="25.6">330</text>
<text transform="translate(700.6,876.9) scale(0.587,1)" text-anchor="start" font-size="25.6">340</text>
</g>
</svg>
</body></html>
